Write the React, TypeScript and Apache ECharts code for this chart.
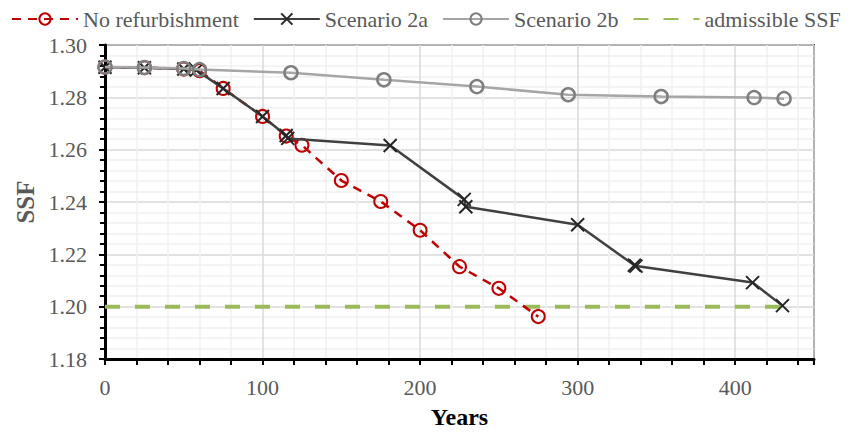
import React, { useEffect, useRef } from "react";
import * as echarts from "echarts";

const noRefYears = [0, 25, 50, 60, 75, 100, 115, 125, 150, 175, 200, 225, 250, 275];
const noRefSSF = [1.2915, 1.2913, 1.2908, 1.2902, 1.2834, 1.2727, 1.2652, 1.2617, 1.2482, 1.2402, 1.2292, 1.2153, 1.207, 1.1962];

const s2aYears = [0, 25, 50, 58, 75, 100, 115, 116, 181, 228, 229, 300, 336, 337, 411, 430];
const s2aSSF = [1.2915, 1.2913, 1.2908, 1.2904, 1.2834, 1.2727, 1.2654, 1.2643, 1.2616, 1.241, 1.2382, 1.2313, 1.2158, 1.2155, 1.2092, 1.2004];

const s2bYears = [0, 25, 50, 60, 118, 177, 236, 294, 353, 412, 431];
const s2bSSF = [1.2916, 1.2914, 1.291, 1.2906, 1.2894, 1.2867, 1.2841, 1.281, 1.2803, 1.2799, 1.2795];

const admYears = [0, 430];
const admSSF = [1.2, 1.2];

const legendNames = ["No refurbishment", "Scenario 2a", "Scenario 2b", "admissible SSF"];

const pair = (xs: number[], ys: number[]) => xs.map((x, i) => [x, ys[i]]);

const FONT = "'Liberation Serif', 'Times New Roman', serif";

export default function App() {
  const ref = useRef<HTMLDivElement>(null);
  useEffect(() => {
    if (!ref.current) return;
    const chart = echarts.init(ref.current, undefined, { renderer: "svg" });
    const xMark = "path://M0 0L10 10M10 0L0 10";
    chart.setOption({
      animation: false,
      backgroundColor: "#ffffff",
      textStyle: { fontFamily: FONT },
      legend: {
        data: [
          legendNames[0],
          legendNames[1],
          legendNames[2],
          { name: legendNames[3], itemStyle: { opacity: 0 } },
        ],
        left: 6,
        top: 3,
        itemWidth: 66,
        itemHeight: 14,
        itemGap: 14,
        textStyle: { fontFamily: FONT, fontSize: 22, color: "#595959" },
      },
      grid: {
        left: 105,
        right: 42,
        top: 45,
        bottom: 72.5,
        show: true,
        borderColor: "#404040",
        borderWidth: 2,
      },
      xAxis: {
        type: "value",
        min: 0,
        max: 450,
        interval: 100,
        name: "Years",
        nameLocation: "middle",
        nameGap: 46,
        nameTextStyle: { fontFamily: FONT, fontSize: 24, fontWeight: "bold", color: "#000" },
        axisLine: { show: true, lineStyle: { color: "#000", width: 3 } },
        axisTick: { show: true, length: 6, lineStyle: { color: "#000", width: 2 } },
        minorTick: { show: true, splitNumber: 5, length: 6, lineStyle: { color: "#000", width: 2 } },
        axisLabel: {
          fontFamily: FONT,
          fontSize: 22,
          color: "#595959",
          margin: 17,
          showMaxLabel: false,
        },
        splitLine: { show: true, lineStyle: { color: "#d9d9d9", width: 1.5 } },
        minorSplitLine: { show: true, lineStyle: { color: "#f0f0f0", width: 1.5 } },
      },
      yAxis: {
        type: "value",
        min: 1.18,
        max: 1.3,
        interval: 0.02,
        name: "SSF",
        nameLocation: "middle",
        nameGap: 66,
        nameTextStyle: { fontFamily: FONT, fontSize: 25, fontWeight: "bold", color: "#595959" },
        axisLine: { show: true, lineStyle: { color: "#000", width: 3 } },
        axisTick: { show: true, length: 6, lineStyle: { color: "#000", width: 2 } },
        minorTick: { show: true, splitNumber: 5, length: 5, lineStyle: { color: "#000", width: 2 } },
        axisLabel: {
          fontFamily: FONT,
          fontSize: 22,
          color: "#595959",
          margin: 18,
          formatter: (v: number) => v.toFixed(2),
        },
        splitLine: { show: true, lineStyle: { color: "#d9d9d9", width: 1.5 } },
        minorSplitLine: { show: true, lineStyle: { color: "#f0f0f0", width: 1.5 } },
      },
      series: [
        {
          name: legendNames[0],
          type: "line",
          data: pair(noRefYears, noRefSSF),
          symbol: "circle",
          symbolSize: 13,
          lineStyle: { color: "#C00000", width: 2.5, type: [9, 7] },
          itemStyle: { color: "rgba(255,255,255,0)", borderColor: "#C00000", borderWidth: 2 },
          emphasis: { disabled: true },
          silent: true,
          z: 3,
        },
        {
          name: legendNames[1],
          type: "line",
          data: pair(s2aYears, s2aSSF),
          symbol: xMark,
          symbolSize: 13,
          lineStyle: { color: "#404040", width: 2.5 },
          itemStyle: { color: "#262626", borderColor: "#262626", borderWidth: 2 },
          emphasis: { disabled: true },
          silent: true,
          z: 4,
        },
        {
          name: legendNames[2],
          type: "line",
          data: pair(s2bYears, s2bSSF),
          symbol: "circle",
          symbolSize: 13,
          lineStyle: { color: "#a6a6a6", width: 2.5 },
          itemStyle: { color: "rgba(255,255,255,0)", borderColor: "#7f7f7f", borderWidth: 2.5 },
          emphasis: { disabled: true },
          silent: true,
          z: 5,
        },
        {
          name: legendNames[3],
          type: "line",
          data: pair(admYears, admSSF),
          symbol: "none",
          lineStyle: { color: "#9BBB59", width: 4, type: [15, 15] },
          itemStyle: { color: "#9BBB59" },
          emphasis: { disabled: true },
          silent: true,
          z: 2,
        },
      ],
    });
    return () => chart.dispose();
  }, []);
  return (
    <div
      ref={ref}
      style={{ position: "fixed", left: 0, top: 0, width: 856, height: 434, background: "#fff" }}
    />
  );
}
